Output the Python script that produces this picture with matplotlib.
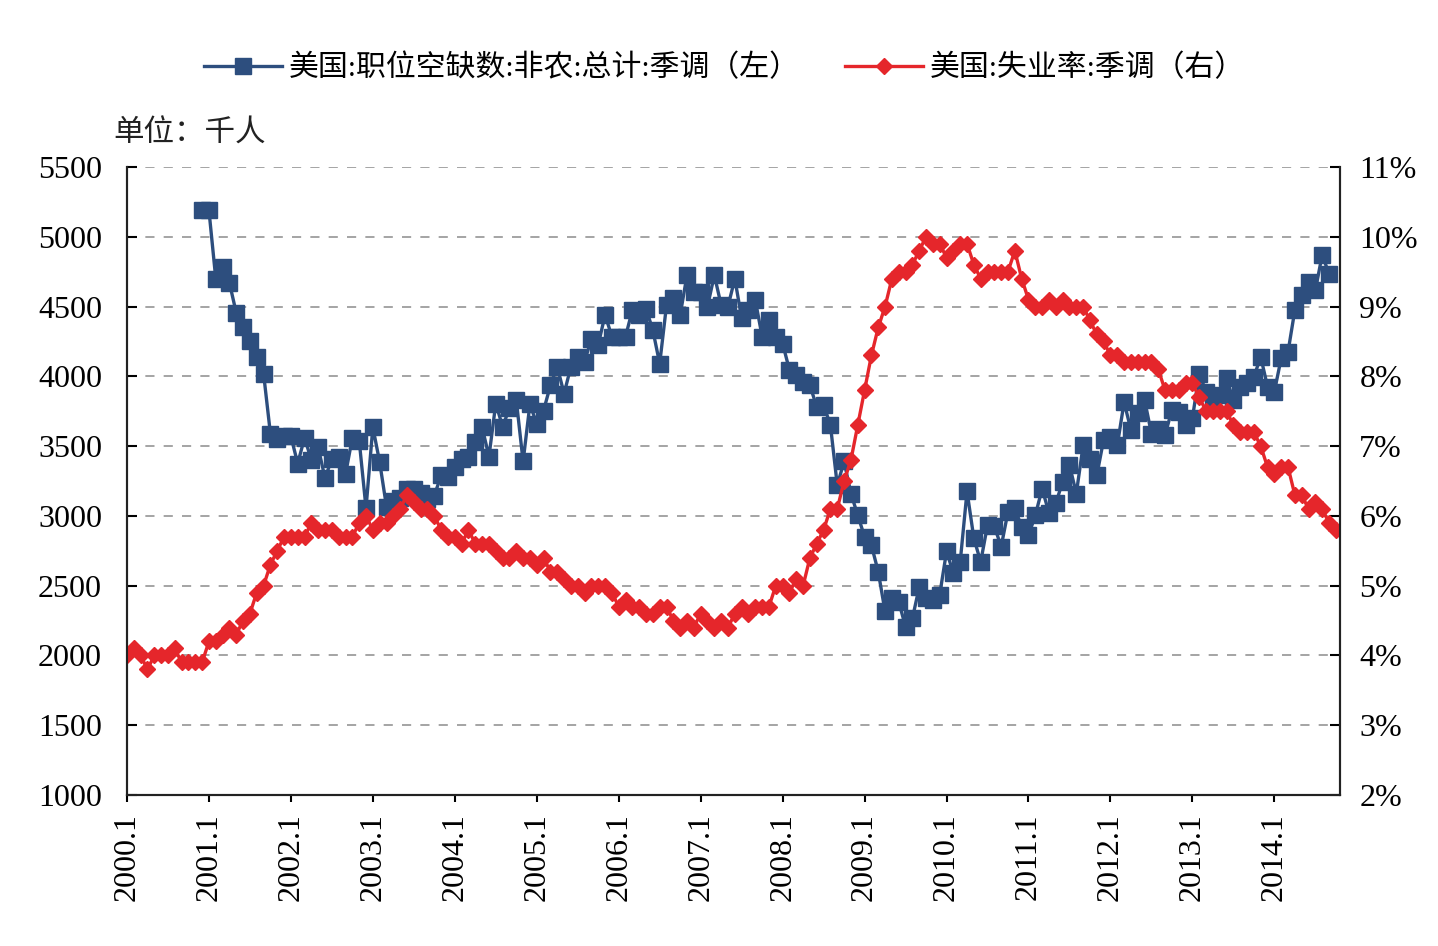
import numpy as np
import matplotlib
matplotlib.use("Agg")
import matplotlib.pyplot as plt
from matplotlib.lines import Line2D

plt.rcParams["font.family"] = ["Liberation Serif", "Noto Sans CJK SC", "DejaVu Sans"]

# --- data -------------------------------------------------------------
YEAR_TICKS = ["2000.1", "2001.1", "2002.1", "2003.1", "2004.1", "2005.1", "2006.1",
              "2007.1", "2008.1", "2009.1", "2010.1", "2011.1", "2012.1", "2013.1", "2014.1"]

# 美国:失业率:季调 (%), 2000.1 - 2014.10
UNEMP = [
    4.0, 4.1, 4.0, 3.8, 4.0, 4.0, 4.0, 4.1, 3.9, 3.9, 3.9, 3.9,   # 2000
    4.2, 4.2, 4.3, 4.4, 4.3, 4.5, 4.6, 4.9, 5.0, 5.3, 5.5, 5.7,   # 2001
    5.7, 5.7, 5.7, 5.9, 5.8, 5.8, 5.8, 5.7, 5.7, 5.7, 5.9, 6.0,   # 2002
    5.8, 5.9, 5.9, 6.0, 6.1, 6.3, 6.2, 6.1, 6.1, 6.0, 5.8, 5.7,   # 2003
    5.7, 5.6, 5.8, 5.6, 5.6, 5.6, 5.5, 5.4, 5.4, 5.5, 5.4, 5.4,   # 2004
    5.3, 5.4, 5.2, 5.2, 5.1, 5.0, 5.0, 4.9, 5.0, 5.0, 5.0, 4.9,   # 2005
    4.7, 4.8, 4.7, 4.7, 4.6, 4.6, 4.7, 4.7, 4.5, 4.4, 4.5, 4.4,   # 2006
    4.6, 4.5, 4.4, 4.5, 4.4, 4.6, 4.7, 4.6, 4.7, 4.7, 4.7, 5.0,   # 2007
    5.0, 4.9, 5.1, 5.0, 5.4, 5.6, 5.8, 6.1, 6.1, 6.5, 6.8, 7.3,   # 2008
    7.8, 8.3, 8.7, 9.0, 9.4, 9.5, 9.5, 9.6, 9.8, 10.0, 9.9, 9.9,  # 2009
    9.7, 9.8, 9.9, 9.9, 9.6, 9.4, 9.5, 9.5, 9.5, 9.5, 9.8, 9.4,   # 2010
    9.1, 9.0, 9.0, 9.1, 9.0, 9.1, 9.0, 9.0, 9.0, 8.8, 8.6, 8.5,   # 2011
    8.3, 8.3, 8.2, 8.2, 8.2, 8.2, 8.2, 8.1, 7.8, 7.8, 7.8, 7.9,   # 2012
    7.9, 7.7, 7.5, 7.5, 7.5, 7.5, 7.3, 7.2, 7.2, 7.2, 7.0, 6.7,   # 2013
    6.6, 6.7, 6.7, 6.3, 6.3, 6.1, 6.2, 6.1, 5.9, 5.8,             # 2014
]

# 美国:职位空缺数:非农:总计:季调 (千人), 2000.12 - 2014.9
JOLTS_START = 11  # first value is 2000.12
JOLTS = [
    5190,                                                                     # 2000.12
    5190, 4700, 4785, 4670, 4455, 4355, 4250, 4140, 4020, 3590, 3550, 3570,   # 2001
    3570, 3375, 3560, 3400, 3490, 3270, 3410, 3420, 3300, 3560, 3540, 3055,   # 2002
    3635, 3385, 3065, 3105, 3125, 3195, 3195, 3165, 3120, 3145, 3290, 3280,   # 2003
    3350, 3410, 3420, 3530, 3635, 3425, 3805, 3640, 3770, 3830, 3390, 3800,   # 2004
    3660, 3755, 3935, 4070, 3875, 4070, 4140, 4105, 4270, 4225, 4440, 4285,   # 2005
    4285, 4285, 4475, 4440, 4485, 4330, 4090, 4510, 4560, 4440, 4725, 4605,   # 2006
    4605, 4500, 4725, 4510, 4500, 4700, 4415, 4475, 4545, 4285, 4405, 4285,   # 2007
    4235, 4045, 4010, 3960, 3935, 3780, 3795, 3650, 3220, 3390, 3160, 3005,   # 2008
    2850, 2790, 2600, 2315, 2410, 2385, 2205, 2265, 2490, 2410, 2395, 2435,   # 2009
    2745, 2590, 2670, 3175, 2840, 2670, 2935, 2925, 2780, 3030, 3055, 2920,   # 2010
    2860, 3005, 3195, 3020, 3090, 3245, 3365, 3160, 3505, 3410, 3290, 3545,   # 2011
    3565, 3505, 3815, 3615, 3735, 3830, 3590, 3625, 3580, 3760, 3745, 3650,   # 2012
    3700, 4020, 3890, 3855, 3865, 3985, 3830, 3925, 3950, 3995, 4140, 3925,   # 2013
    3890, 4130, 4175, 4475, 4580, 4675, 4615, 4870, 4735,                     # 2014
]

LABEL_L = "美国:职位空缺数:非农:总计:季调（左）"
LABEL_R = "美国:失业率:季调（右）"
BLUE = "#2d4e7e"
RED = "#e5262b"

# --- figure -------------------------------------------------------------
fig = plt.figure(figsize=(14.38, 9.46), dpi=100)
ax = fig.add_axes([0.0883, 0.1596, 0.8435, 0.6639])
ax2 = ax.twinx()

x_u = np.arange(len(UNEMP))
x_j = np.arange(JOLTS_START, JOLTS_START + len(JOLTS))

ax.plot(x_j, JOLTS, color=BLUE, lw=2.4, marker="s", ms=11, mec=BLUE, mfc=BLUE)
ax2.plot(x_u, UNEMP, color=RED, lw=2.4, marker="D", ms=8.5, mec=RED, mfc=RED)

ax.set_xlim(0, 177.6)
ax.set_ylim(1000, 5500)
ax.set_yticks(np.arange(1000, 5501, 500))
ax2.set_ylim(2, 11)
ax2.set_yticks(np.arange(2, 12, 1))
ax2.set_yticklabels([f"{v}%" for v in range(2, 12)])

ax.set_xticks(np.arange(0, 12 * len(YEAR_TICKS), 12))
ax.set_xticklabels(YEAR_TICKS, rotation=90)

ax.yaxis.grid(True, color="#8c8c8c", ls=(0, (6, 6)), lw=1.1)
ax.set_axisbelow(True)

for a in (ax, ax2):
    a.spines["top"].set_visible(False)
    for s in ("left", "right", "bottom"):
        a.spines[s].set_color("#222222")
        a.spines[s].set_linewidth(1.5)

ax.tick_params(axis="y", direction="in", length=7, width=1.5, labelsize=23, pad=18)
ax.tick_params(axis="x", direction="out", length=5, width=1.5, labelsize=23, pad=8)
ax2.tick_params(axis="y", direction="in", length=7, width=1.5, labelsize=23, pad=14)
ax.tick_params(axis="y", right=False)

fig.text(0.0786, 0.8585, "单位：千人", fontsize=22, va="center", ha="left", color="#222222")

handles = [
    Line2D([], [], color=BLUE, lw=2.4, marker="s", ms=11),
    Line2D([], [], color=RED, lw=2.4, marker="D", ms=8.5),
]
fig.legend(handles, [LABEL_L, LABEL_R], loc="center", bbox_to_anchor=(0.504, 0.928),
           ncol=2, frameon=False, fontsize=21.5, handlelength=2.6,
           handletextpad=0.25, columnspacing=1.5)

fig.savefig("out.png", dpi=100)
